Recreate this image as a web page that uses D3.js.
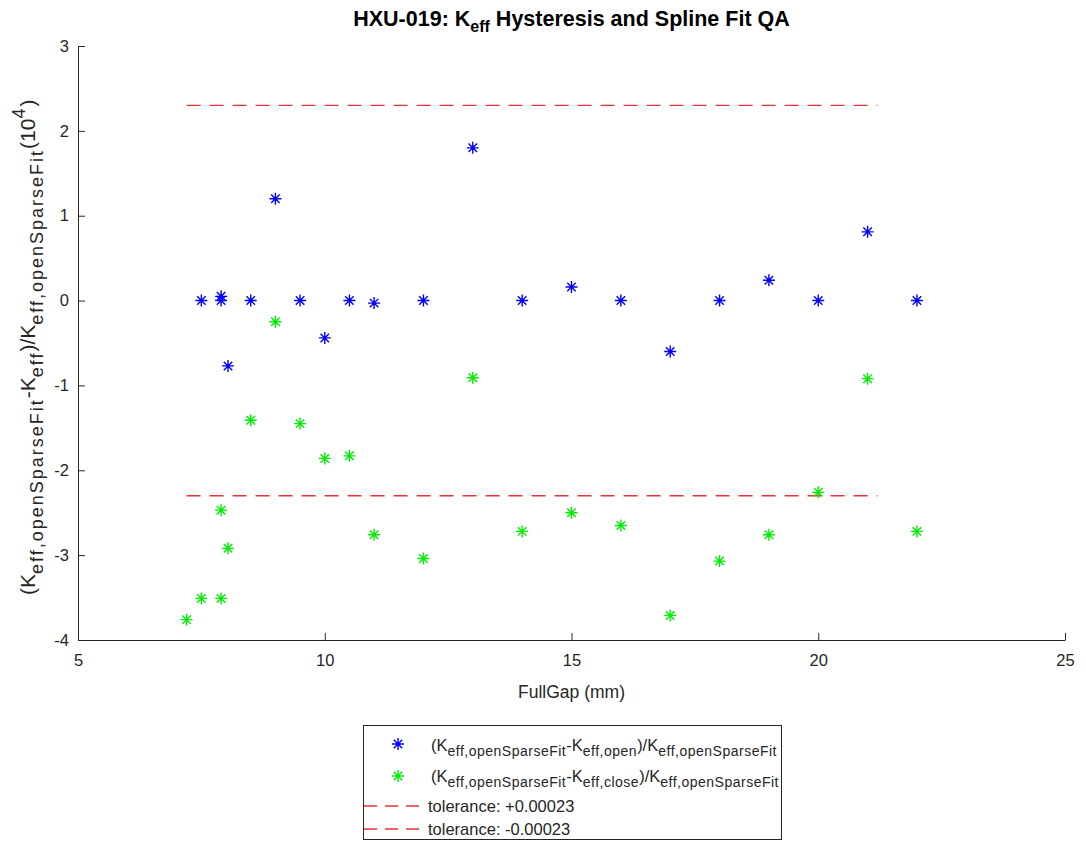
<!DOCTYPE html>
<html><head><meta charset="utf-8">
<script src="https://cdn.jsdelivr.net/npm/d3@7"></script>
<style>body{margin:0;background:#fff}svg{display:block;font-family:"Liberation Sans",Arial,sans-serif}</style>
</head><body><svg id="c" width="1086" height="842"></svg>
<script>
const gapOpen  = [7.5, 7.9, 7.9, 8.04, 8.5, 9, 9.5, 10, 10.5, 11, 12, 13, 14, 15, 16, 17, 18, 19, 20, 21, 22];
const devOpen  = [0, 0.05, 0, -0.77, 0, 1.2, 0, -0.44, 0, -0.03, 0, 1.8, 0, 0.16, 0, -0.6, 0, 0.24, 0, 0.81, 0];
const gapClose = [7.2, 7.5, 7.9, 7.9, 8.04, 8.5, 9, 9.5, 10, 10.5, 11, 12, 13, 14, 15, 16, 17, 18, 19, 20, 21, 22];
const devClose = [-3.76, -3.51, -2.47, -3.51, -2.92, -1.41, -0.25, -1.45, -1.86, -1.83, -2.76, -3.04, -0.91, -2.72, -2.5, -2.65, -3.71, -3.07, -2.76, -2.26, -0.92, -2.72];
const tolRange = [7.2, 21.2];
const tolValues = [2.3, -2.3];
const xTicks = [5, 10, 15, 20, 25];
const yTicks = [-4, -3, -2, -1, 0, 1, 2, 3];

const svg = d3.select("#c");
const x = d3.scaleLinear().domain([5, 25]).range([78, 1065]);
const y = d3.scaleLinear().domain([-4, 3]).range([640, 46]);
const axisCol = "#262626";
const fmt = d => String(d);

// tolerance lines
tolValues.forEach(v => {
  svg.append("line").attr("x1", x(tolRange[0])).attr("x2", x(tolRange[1]))
    .attr("y1", y(v)).attr("y2", y(v))
    .attr("stroke", "#e8303a").attr("stroke-width", 1.3).attr("stroke-dasharray", "14,9");
});

// star marker
function star(g, cx, cy, col, r) {
  const p = [];
  for (let i = 0; i < 4; i++) {
    const a = i * Math.PI / 4;
    p.push(`M${cx - r*Math.cos(a)},${cy - r*Math.sin(a)}L${cx + r*Math.cos(a)},${cy + r*Math.sin(a)}`);
  }
  g.append("path").attr("d", p.join("")).attr("stroke", col).attr("stroke-width", 1.4).attr("fill", "none");
}
const gOpen = svg.append("g");
gapOpen.forEach((g, i) => star(gOpen, x(g), y(devOpen[i]), "#0000ff", 6));
const gClose = svg.append("g");
gapClose.forEach((g, i) => star(gClose, x(g), y(devClose[i]), "#00ee00", 6));

// axes
const xa = svg.append("g").attr("transform", `translate(0,${y(-4)})`)
  .call(d3.axisBottom(x).tickValues(xTicks).tickFormat(fmt).tickSizeInner(-7).tickSizeOuter(0).tickPadding(12));
const ya = svg.append("g").attr("transform", `translate(${x(5)},0)`)
  .call(d3.axisLeft(y).tickValues(yTicks).tickFormat(fmt).tickSizeInner(-7).tickSizeOuter(0).tickPadding(12));
[xa, ya].forEach(a => {
  a.select(".domain").attr("stroke", axisCol).attr("stroke-width", 1);
  a.selectAll(".tick line").attr("stroke", axisCol);
  a.selectAll(".tick text").attr("fill", axisCol).style("font-size", "16.5px").style("font-family", "Liberation Sans, Arial, sans-serif");
});
xa.selectAll(".tick text").attr("dy", "0.85em");
ya.selectAll(".tick text").attr("x", -9);

// x label
svg.append("text").attr("x", x(15)).attr("y", 698).attr("text-anchor", "middle")
  .attr("fill", axisCol).style("font-size", "17.5px").text("FullGap (mm)");

// title
const t = svg.append("text").attr("x", x(15)).attr("y", 26).attr("text-anchor", "middle")
  .attr("fill", "#000").style("font-size", "21.5px").style("font-weight", "bold");
t.append("tspan").text("HXU-019: K");
t.append("tspan").attr("dy", 6).style("font-size", "16px").text("eff");
t.append("tspan").attr("dy", -6).text(" Hysteresis and Spline Fit QA");

// rich text helper: parts [text, mode] mode: n normal, s sub, p sup
function rich(textSel, parts, base, small, ls, sdy) {
  let cur = 0;
  parts.forEach(([s, m]) => {
    const target = m === "s" ? sdy : m === "p" ? -sdy - 2 : 0;
    const ts = textSel.append("tspan").attr("dy", target - cur)
      .style("font-size", (m === "n" ? base : small) + "px").text(s);
    if (m !== "n") ts.style("letter-spacing", ls + "px");
    cur = target;
  });
}

// y label
const yl = svg.append("text").attr("transform", `translate(35,${y(-0.55)}) rotate(-90)`)
  .attr("text-anchor", "middle").attr("fill", axisCol);
rich(yl, [["(K","n"],["eff,openSparseFit","s"],["-K","n"],["eff","s"],[")/K","n"],["eff,openSparseFit","s"],["(10","n"],["4","p"],[")","n"]], 21, 18, 2, 8);

// legend
const lg = svg.append("g");
lg.append("rect").attr("x", 363.5).attr("y", 725.5).attr("width", 418).attr("height", 114)
  .attr("fill", "#fff").attr("stroke", axisCol).attr("stroke-width", 1);
const legendLabels = [
  [["(K","n"],["eff,openSparseFit","s"],["-K","n"],["eff,open","s"],[")/K","n"],["eff,openSparseFit","s"]],
  [["(K","n"],["eff,openSparseFit","s"],["-K","n"],["eff,close","s"],[")/K","n"],["eff,openSparseFit","s"]],
  [["tolerance: +0.00023","n"]],
  [["tolerance: -0.00023","n"]]
];
const rowsY = [745, 776, 806, 829];
star(lg, 398, rowsY[0] - 1, "#0000ff", 6);
star(lg, 398, rowsY[1], "#00ee00", 6);
[2, 3].forEach(i => lg.append("line").attr("x1", 364).attr("x2", 427).attr("y1", rowsY[i]).attr("y2", rowsY[i])
  .attr("stroke", "#e8303a").attr("stroke-width", 1.3).attr("stroke-dasharray", "13,8"));
legendLabels.forEach((parts, i) => {
  const tx = lg.append("text").attr("x", i < 2 ? 431 : 428).attr("y", rowsY[i] + 6).attr("fill", axisCol);
  rich(tx, parts, 16.5, 14, 0.5, 5);
});
</script></body></html>
